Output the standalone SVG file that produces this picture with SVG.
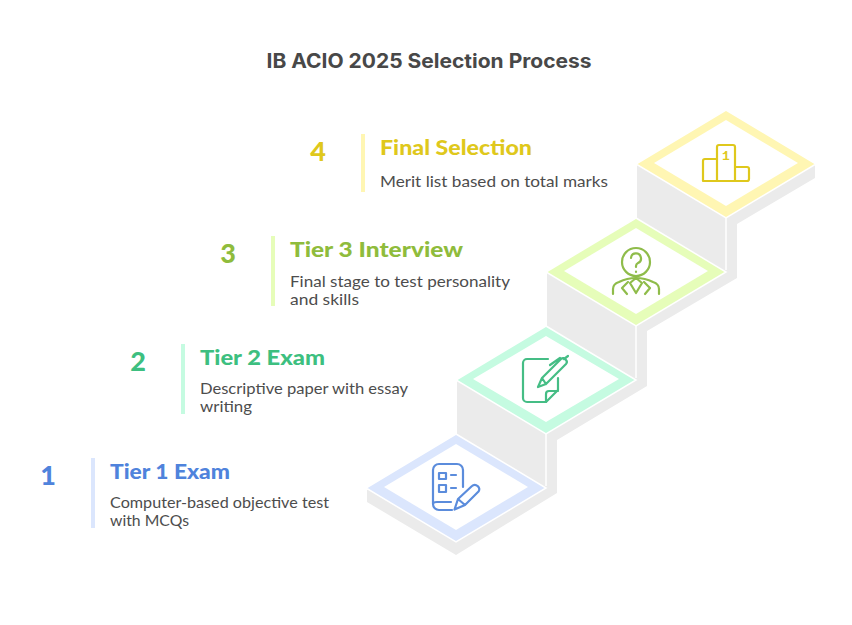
<svg xmlns="http://www.w3.org/2000/svg" width="852" height="625" viewBox="0 0 852 625">
<style>
text{font-family:"Lato","Noto Sans",sans-serif}
.title{font-family:"Inter","Open Sans",sans-serif;font-size:20px;font-weight:700;fill:#484848}
.head{font-size:20px;font-weight:900}
.num{font-size:27px;font-weight:900}
.body{font-size:15px;fill:#4d4d4d}
.ring{stroke:#fff;stroke-width:1.5}
.inner{fill:#fff}
.ic{fill:none;stroke-width:2.200;stroke-linecap:round;stroke-linejoin:round}
.sep{stroke:#fff;stroke-width:1.5;fill:none}
.b{fill:#4f83dc}.g{fill:#3dbf80}.l{fill:#8fbc3c}.y{fill:#dfc81c}
</style>
<rect width="852" height="625" fill="#fff"/>
<text class="title" x="429" y="68" text-anchor="middle" textLength="325" lengthAdjust="spacingAndGlyphs">IB ACIO 2025 Selection Process</text>

<g id="connectors">
<polygon fill="#ebebeb" points="367,490 367,502 456,555 557,493 557,440 647,386 647,331 737,278 737,224 815,178 815,165 726,112 637,165 637,218 547,273 547,327 457,381 457,435"/>
<path class="sep" d="M726,217V270M636,325V378M546,433V486"/>
</g>

<g id="step-1">
<rect x="91" y="458" width="4" height="70" fill="#dbe6fd"/>
<text class="num b" x="48" y="485" text-anchor="middle">1</text>
<text class="head b" x="110" y="478.500" textLength="120" lengthAdjust="spacingAndGlyphs">Tier 1 Exam</text>
<text class="body" x="110" y="508" textLength="219" lengthAdjust="spacingAndGlyphs">Computer-based objective test</text>
<text class="body" x="110" y="526" textLength="79" lengthAdjust="spacingAndGlyphs">with MCQs</text>
<polygon class="ring" fill="#dbe6fd" points="456,434 546,488 456,542 366,488"/>
<polygon class="inner" points="456,444 528,487 456,530 384,487"/>
<g class="ic" stroke="#5b8cdc">
<path d="M463,487V470a6,6 0 0 0-6-6H439a6,6 0 0 0-6,6V504a6,6 0 0 0 6,6H452M433,504a4,2 0 0 1 4-2H451"/>
<rect x="439" y="473" width="7" height="6"/><rect x="439" y="485" width="7" height="7"/>
<path d="M451,475H456M451,488H456"/>
<path d="M454.500,509.500L458,499L472,486a3.800,3.800 0 0 1 5.500,0a3.800,3.800 0 0 1 1,5.500L465,505ZM458,499L465,505"/>
</g>
</g>

<g id="step-2">
<rect x="181" y="344" width="4" height="70" fill="#c5fbe1"/>
<text class="num g" x="138" y="371" text-anchor="middle">2</text>
<text class="head g" x="200" y="364.500" textLength="125" lengthAdjust="spacingAndGlyphs">Tier 2 Exam</text>
<text class="body" x="200" y="394" textLength="208" lengthAdjust="spacingAndGlyphs">Descriptive paper with essay</text>
<text class="body" x="200" y="412" textLength="52" lengthAdjust="spacingAndGlyphs">writing</text>
<polygon class="ring" fill="#c5fbe1" points="546,326 636,380 546,434 456,380"/>
<polygon class="inner" points="546,336 619,379 546,422 473,379"/>
<g class="ic" stroke="#45bd85">
<path d="M548,359H527a4,4 0 0 0-4,4V398a4,4 0 0 0 4,4H546L558,390V378"/>
<path d="M546,402V394a3,3 0 0 1 3-3H558"/>
<path d="M538,387L542,378L561,359a3,3 0 0 1 5,1a3,3 0 0 1 0,4L546,384ZM542,378L546,384M568,356L564,359M550,365L560,358"/>
</g>
</g>

<g id="step-3">
<rect x="271" y="236" width="4" height="70" fill="#e6fdb9"/>
<text class="num l" x="228" y="263" text-anchor="middle">3</text>
<text class="head l" x="290" y="256.500" textLength="173" lengthAdjust="spacingAndGlyphs">Tier 3 Interview</text>
<text class="body" x="290" y="287" textLength="220" lengthAdjust="spacingAndGlyphs">Final stage to test personality</text>
<text class="body" x="290" y="305" textLength="69" lengthAdjust="spacingAndGlyphs">and skills</text>
<polygon class="ring" fill="#e6fdb9" points="636,218 726,272 636,326 546,272"/>
<polygon class="inner" points="636,228 708,271 636,314 564,271"/>
<g class="ic" stroke="#8fbc4a">
<circle cx="636" cy="262" r="14"/>
<path d="M631,258a5,5 0 1 1 7,5q-2,1 -2,3v1M636,271.500V272"/>
<path d="M613,294V289q0-5 6-7q8-4 17-4t17,4q6,2 6,7V294"/>
<path d="M628,282L622,288L627,294M644,282L650,288L645,294M630,283L636,293L642,283L636,278Z"/>
</g>
</g>

<g id="step-4">
<rect x="361" y="134" width="4" height="58" fill="#fff6b3"/>
<text class="num y" x="318" y="160.500" text-anchor="middle">4</text>
<text class="head y" x="380" y="154.500" textLength="152" lengthAdjust="spacingAndGlyphs">Final Selection</text>
<text class="body" x="380" y="187" textLength="228" lengthAdjust="spacingAndGlyphs">Merit list based on total marks</text>
<polygon class="ring" fill="#fff6b3" points="726,110 816,164 726,218 636,164"/>
<polygon class="inner" points="726,120 798,163 726,206 654,163"/>
<g class="ic" stroke="#dfc81c">
<path d="M717,159H705a2,2 0 0 0-2,2V181H717ZM717,181V147a2,2 0 0 1 2-2H733a2,2 0 0 1 2,2V181ZM735,167H747a2,2 0 0 1 2,2V179a2,2 0 0 1-2,2H735Z"/>
</g>
<text x="726" y="159.500" text-anchor="middle" style="font-family:'Liberation Mono',monospace;font-size:13px;font-weight:700" class="y">1</text>
</g>
</svg>
